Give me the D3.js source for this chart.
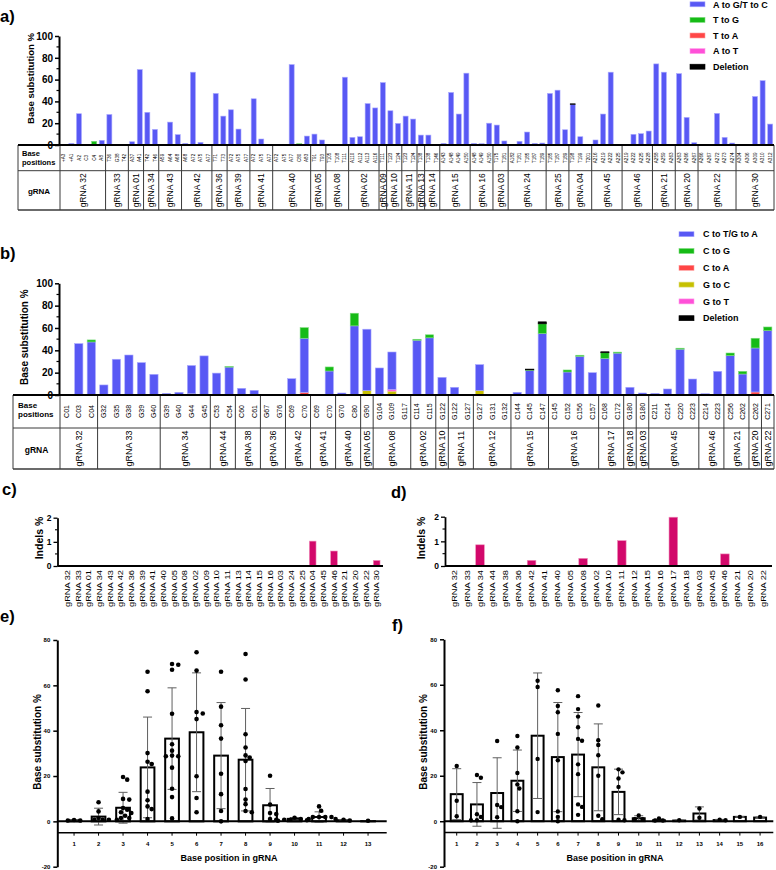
<!DOCTYPE html>
<html><head><meta charset="utf-8">
<script src="https://cdn.jsdelivr.net/npm/d3@7/dist/d3.min.js"></script>
<style>
html,body{margin:0;padding:0;background:#fff;}
svg{display:block;}
text{font-family:"Liberation Sans",Arial,Helvetica,sans-serif;fill:#000;}
</style></head><body>
<svg id="chart" width="776" height="870" viewBox="0 0 776 870"></svg>
<script>
// ================= DATA =================
// ---- panel a ----
const aGroups = ["gRNA 32","gRNA 33","gRNA 01","gRNA 34","gRNA 43","gRNA 42","gRNA 36","gRNA 39","gRNA 41","gRNA 40","gRNA 05","gRNA 08","gRNA 02","gRNA 09","gRNA 10","gRNA 11","gRNA 13","gRNA 14","gRNA 15","gRNA 16","gRNA 03","gRNA 24","gRNA 25","gRNA 04","gRNA 45","gRNA 46","gRNA 21","gRNA 20","gRNA 22","gRNA 30"];
const aGroupSizes = [6,3,2,2,3,4,2,3,3,5,2,3,4,1,2,2,1,2,4,3,2,5,3,3,4,4,3,3,5,5];
const aPositions = [
 "+A3","+A1","A2","C3","C4","A8",
 "T36","G38","T42",
 "A37","A41",
 "T42","T46",
 "A59","A64","A68",
 "A68","A72","A75","A77",
 "T71","T73",
 "A72","A75","A77",
 "A72","A75","A77",
 "A72","A75","A77","C80","A83",
 "T91","T93",
 "T105","T108","T111",
 "A110","A112","A113","A116",
 "T111",
 "T123","T124",
 "T123","T124",
 "T138",
 "T138","T146",
 "A143","A148","A149","A150",
 "A148","A149","A150",
 "T175","T181",
 "A182","T181","T185","T187","T189",
 "T185","T187","T189",
 "T198","T199","T201",
 "A216","A219","A222","A225",
 "A219","A222","A225","A228",
 "A258","A259","A263",
 "A263","A266","A267",
 "A266","A267","A272","A273","A274",
 "A304","A306","A309","A310","A312"];
const aAtoG = [
 0,1.5,28.7,0,0,4.3,
 28,0,0.6,
 3,69.2,
 30,14.3,
 0.6,21,9.5,
 1.5,66.8,2.4,0,
 47.3,26.5,
 32.3,14.6,0,
 42.4,5.5,0,
 0,0,73.8,0,8.2,
 10,4.6,
 0,0,62.2,
 7,7.6,38,34,
 57.3,
 31.4,19.8,
 26.5,23.8,
 9.1,
 9.1,0,
 1.5,48.2,28.4,65.9,
 1.5,1.2,20,
 18.3,3.7,
 0,3.4,11.9,1.5,1.8,
 47.3,50.3,14,
 37.2,7.6,0,
 4.6,28.4,66.8,0,
 0,9.8,10.4,12.8,
 74.4,66.8,0.5,
 65.5,25.3,2.1,
 0,0,29,7,1.8,
 0,0.6,44.5,59,19.2];
const aTtoG = [
 0,0,0,0,3.4,0, 0,0,0, 0,0, 0,0, 0,0,0, 0,0,0,0, 0,0, 0,0,0, 0,0,0,
 0,0,0,1.2,0, 0,0, 0,0,0, 0,0,0,0, 0, 0,0, 0,0, 0, 0,0, 0,0,0,0, 0,0,0,
 0,0, 0,0,0,0,0, 0,0,0, 0,0,0, 0,0,0,0, 0,0,0,0, 0,0,0, 0,0,0, 0,0,0,0,0, 0,0,0,0,0];
const aTtoA = [
 0,0,0,0,0,0, 0,0,0, 0,0, 0,0, 0,0,0, 0,0,0,0, 0,0, 0,0,0, 0,0,0,
 0,0,0,0,0, 0,0, 0,0,0, 0,0,0,0, 0, 0,0, 0,0, 0, 0,0, 0,0,0,0, 0,0,0,
 0,0, 0,0,0,0,0, 0,0,0, 0,0,0, 0,0,0,0, 0,0,0,0, 0,0,0, 0,0,0, 0,0,0,0,0, 0,0,0,0,0];
const aAtoT = [
 0,0,0,0,0,0, 0,0,0, 0,0, 0,0, 0,0,0, 0,0,0,0, 0,0, 0,0,0, 0,0,0,
 0,0,0,0,0, 0,0, 0,0,0, 0,0,0,0, 0, 0,0, 0,0, 0, 0,0, 0,0,0,0, 0,0,0,
 0,0, 0,0,0,0,0, 0,0,0, 0,0,0, 0,0,0,0, 0,0,0,0, 0,0,0, 0,0,0, 0,0,0,0,0, 0,0,0,0,0];
const aDeletion = [
 0,0,0,0,0,0, 0,0,0, 0,0, 0,0, 0,0,0, 0,0,0,0, 0,0, 0,0,0, 0,0,0,
 0,0,0,0,0, 0,0, 0,0,0, 0,0,0,0, 0, 0,0, 0,0, 0, 0,0, 0,0,0,0, 0,0,0,
 0,0, 0,0,0,0,0, 0,0,0, 0.6,0,0, 0,0,0,0, 0,0,0,0, 0,0,0, 0,0,0, 0,0,0,0,0, 0,0,0,0,0];
const aLegend = ["A to G/T to C","T to G","T to A","A to T","Deletion"];

// ---- panel b ----
const bGroups = ["gRNA 32","gRNA 33","gRNA 34","gRNA 44","gRNA 38","gRNA 36","gRNA 42","gRNA 41","gRNA 40","gRNA 05","gRNA 08","gRNA 02","gRNA 10","gRNA 11","gRNA 12","gRNA 15","gRNA 16","gRNA 17","gRNA 18","gRNA 03","gRNA 45","gRNA 46","gRNA 21","gRNA 20","gRNA 22"];
const bGroupSizes = [3,5,4,2,2,2,2,2,2,1,3,2,1,2,3,3,4,2,1,1,4,2,2,1,1];
const bPositions = [
 "C01","C03","C04",
 "G32","G35","G38","G39","G40",
 "G39","G40","G44","G45",
 "C53","C54",
 "C60","C61",
 "G67","G76",
 "C69","C70",
 "C69","C70",
 "G70","C80",
 "G90",
 "G104","G109","G117",
 "C114","C115",
 "G122",
 "G122","G127",
 "G127","G131","G132",
 "C144","C145","C147",
 "C145","C152","C156","C157",
 "C168","C172",
 "G180",
 "G180",
 "C211","C214","C220","C223",
 "C214","C223",
 "C256","C262",
 "C262",
 "C271"];
const bCtoT = [
 0,46,47.5,
 9,32,35.8,29,18.5,
 1.5,2.4,25.3,35,
 19.6,25,
 6,4.2,
 0,0.5,
 14.6,48.4,
 0,21.5,
 1.8,61.5,
 55,
 24.2,33.5,0,
 49,50.7,
 15.8,
 6.9,0,
 23.3,0,0,
 2.4,22,55,
 0,20.6,34.6,20,
 32.8,37,
 6.9,
 1.8,
 1.5,5.4,41,14.3,
 1.2,21.2,
 35.2,18.8,
 39.4,
 57.6];
const bCtoG = [
 0,0,1.8, 0,0,0,0,0, 0,0,0,0, 0,0.5, 0,0, 0,0, 0,9.5, 0,3.6, 0,11.3, 0,
 0,0,0, 0.9,2.7, 0, 0,0, 0,0,0, 0,0.5,8.7, 0,1.8,1,0, 5,0.9, 0, 0,
 0,0,0.9,0, 0,0, 2.4,2.4, 8.7, 3.3];
const bCtoA = [
 0,0,0, 0,0,0,0,0, 0,0,0.5,0, 0,0, 0,0, 0,0, 0,2.4, 0,0, 0,0.4, 0,
 0,0,0, 0,0.5, 0, 0,0, 0,0,0, 0,0,0, 0,0,0,0, 0,0.5, 0, 0,
 0,0,0,0, 0,0, 0,0, 2.7, 0];
const bGtoC = [
 0,0,0, 0,0,0,0,0, 0,0,0.6,0, 0,0, 0,0, 0,0, 0,0, 0,0, 0,0, 3.9,
 0,3.5,0, 0,0, 0, 0,0, 3.9,0,0, 0,0,0, 0,0,0,0, 0,0, 0, 0,
 0,0,0,0, 0,0, 0,0, 0, 0];
const bGtoT = [
 0,0,0, 0,0,0,0,0, 0,0,0,0, 0,0, 0,0, 0,0, 0,0, 0,0, 0,0, 0,
 0,1.5,0, 0,0, 0, 0,0, 0,0,0, 0,0,0, 0,0,0,0, 0,0, 0, 0,
 0,0,0,0, 0,0, 0,0, 0, 0];
const bDeletion = [
 0,0,0, 0,0,0,0,0, 0,0,0,0, 0,0, 0,0, 0,0, 0,0, 0,0, 0,0, 0,
 0,0,0, 0,0, 0, 0,0, 0,0,0, 0,0.7,1.8, 0,0,0,0, 0.9,0, 0, 0,
 0,0,0,0, 0,0, 0,0, 0, 0];
const bLegend = ["C to T/G to A","C to G","C to A","G to C","G to T","Deletion"];

// ---- panel c ----
const cGuides = ["gRNA 32","gRNA 33","gRNA 01","gRNA 34","gRNA 43","gRNA 42","gRNA 36","gRNA 39","gRNA 41","gRNA 40","gRNA 05","gRNA 08","gRNA 02","gRNA 09","gRNA 10","gRNA 11","gRNA 13","gRNA 14","gRNA 15","gRNA 16","gRNA 03","gRNA 24","gRNA 25","gRNA 04","gRNA 45","gRNA 46","gRNA 21","gRNA 20","gRNA 22","gRNA 30"];
const cIndels = [0,0,0,0,0,0,0,0,0,0,0,0,0,0,0,0,0,0,0,0,0,0,0,1.03,0,0.62,0,0,0,0.23];

// ---- panel d ----
const dGuides = ["gRNA 32","gRNA 33","gRNA 34","gRNA 44","gRNA 38","gRNA 36","gRNA 42","gRNA 41","gRNA 40","gRNA 05","gRNA 08","gRNA 02","gRNA 10","gRNA 11","gRNA 12","gRNA 15","gRNA 16","gRNA 17","gRNA 18","gRNA 03","gRNA 45","gRNA 46","gRNA 21","gRNA 20","gRNA 22"];
const dIndels = [0,0,0.86,0,0,0,0.23,0,0,0,0.31,0,0,1.03,0,0,0,1.98,0,0,0,0.49,0,0,0];

// ---- panel e ----
const eBasePos = ["1","2","3","4","5","6","7","8","9","10","11","12","13"];
const eMean = [0.5,2.1,6.0,23.8,36.5,39.3,29.0,27.2,7.1,1.1,1.9,0.5,0.1];
const eSD = [0.2,3.7,6.8,22.2,22.4,26.2,23.4,22.6,7.4,0.6,2.3,0.2,0.1];
const ePoints = [
 [0.4,0.6,0.4],
 [8.4,4.4,1.5,0.7,0.7,0.7],
 [19.6,18.4,9.9,9.6,5.9,5.1,4.0,3.7,2.5,1.5,1.5,0.7],
 [66,57.4,30.1,26.3,25.3,13.1,9.3,6.6,5.4,1.0],
 [69.4,69.1,66.9,47.5,34,31.2,29,28.7,28.7,23.7,14.4,10.7,1.3],
 [74.6,66.5,48.2,47.6,45.1,19.9,10.3,4],
 [66,50.6,42.4,36.5,21,12,4.6,0],
 [73.8,62.6,38.4,32.6,29.1,28.2,26.6,14.3,9.6,7.6,4.6,4],
 [20.1,7.4,3.7,3.2,1,0.7],
 [1.6,1.0,0.7,0.7,0.5,0.3],
 [6.6,4.7,1.9,1.9,1.9,1.9,1.0,1.0],
 [0.7,0.4],
 [0.3]];

// ---- panel f ----
const fBasePos = ["1","2","3","4","5","6","7","8","9","10","11","12","13","14","15","16"];
const fMean = [11.9,7.4,12.4,17.8,37.6,28.2,29.3,23.7,12.9,1.3,0.4,0.3,3.4,0.5,1.9,1.6];
const fSD = [11.2,9.6,15.5,13.5,27.6,24.0,18.5,19.1,10.0,1.1,0.5,0.2,2.9,0.3,0.2,0.2];
const fPoints = [
 [24.3,9,2.2],
 [20.3,19.1,3.1,1.9,0.4,0.4],
 [35.3,7.1,6.2,1.8],
 [37.5,32.4,21.2,16.2,14.4,4.4,0],
 [61.8,59,27.4,4],
 [57.6,50.7,47.9,38.4,26.8,4.3,1.9,0],
 [55,49.3,46,41.3,36.2,35.4,25,20.7,7.4,6.3,2.8],
 [50.9,35.6,33.5,29,20,2.4,0.9],
 [22.8,21.5,18.8,15.1,0.7,0.4],
 [2.5,0.9,0.9],
 [1.2,0.3,0.3],
 [0.4],
 [5.6,1.5],
 [0.7,0.4],
 [1.9],
 [1.9]];

// ================= STYLE =================
const C = {
  blue:"#5858f4", blueS:"#aaaaff",
  green:"#16bb16", greenS:"#7fdc7f",
  red:"#ff4646", redS:"#ff9d9d",
  pink:"#ff50d8", pinkS:"#ffa0ea",
  olive:"#c6c000", oliveS:"#e2de82",
  black:"#000000", blackS:"#000000",
  indel:"#d2086b", indelS:"#ee8fbb"
};
const svg = d3.select("#chart");

function panelLabel(t,x,y){
  svg.append("text").attr("x",x).attr("y",y).attr("font-size",16.5).attr("font-weight","bold").text(t);
}

// ================= STACKED PANELS (a, b) =================
function stackedPanel(o){
  const n = o.positions.length;
  const x = d3.scaleBand().domain(d3.range(n)).range([o.x0,o.x1]).paddingInner(0.34).paddingOuter(0.17);
  const y = d3.scaleLinear().domain([0,100]).range([o.yBase,o.yTop]);
  const g = svg.append("g");
  const rows = d3.range(n).map(i=>{const r={i}; o.series.forEach(s=>{r[s.key]=s.values[i];}); return r;});
  const layers = d3.stack().keys(o.stackOrder)(rows);
  layers.forEach(layer=>{
    const s = o.series.find(q=>q.key===layer.key);
    g.append("g").selectAll("rect").data(layer.filter(d=>d[1]>d[0])).join("rect")
      .attr("x",d=>x(d.data.i)).attr("width",x.bandwidth())
      .attr("y",d=>y(d[1])).attr("height",d=>Math.max(0.6,y(d[0])-y(d[1])))
      .attr("fill",s.color).attr("stroke",s.stroke).attr("stroke-width",0.6);
  });
  // y axis
  const ax = g.append("g").attr("transform",`translate(${o.axisX},0)`)
    .call(d3.axisLeft(y).tickValues([0,20,40,60,80,100]).tickSize(4).tickSizeOuter(0).tickPadding(2));
  ax.select(".domain").attr("stroke","#000").attr("stroke-width",2);
  ax.selectAll(".tick line").attr("stroke","#000").attr("stroke-width",1.5);
  ax.selectAll(".tick text").attr("font-size",10).attr("font-weight","bold");
  g.append("g").selectAll("line").data([10,30,50,70,90]).join("line")
    .attr("x1",o.axisX-2.5).attr("x2",o.axisX).attr("y1",d=>y(d)).attr("y2",d=>y(d))
    .attr("stroke","#000").attr("stroke-width",1.2);
  g.append("text").attr("transform",`translate(${o.titleX},${(o.yBase+o.yTop)/2 + o.titleDy}) rotate(-90)`)
    .attr("text-anchor","middle").attr("font-size",o.titleSize).attr("font-weight","bold").text("Base substitution %");

  // table
  const t = o.table, step = x.step();
  const starts = []; let cum = 0;
  o.groupSizes.forEach(s=>{starts.push(cum); cum += s;});
  const lines = g.append("g").attr("stroke","#3a3a3a").attr("stroke-width",1).attr("fill","none");
  lines.append("line").attr("x1",t.left).attr("x2",o.x1).attr("y1",t.mid).attr("y2",t.mid);
  lines.append("line").attr("x1",t.left).attr("x2",o.x1).attr("y1",t.bottom).attr("y2",t.bottom).attr("stroke-width",1.5);
  lines.append("line").attr("x1",t.left).attr("x2",t.left).attr("y1",o.yBase).attr("y2",t.bottom);
  lines.append("line").attr("x1",t.divider).attr("x2",t.divider).attr("y1",o.yBase).attr("y2",t.bottom);
  lines.selectAll(".gb").data(o.groupSizes.map((s,i)=>starts[i]+s)).join("line")
    .attr("x1",d=>o.x0+d*step).attr("x2",d=>o.x0+d*step).attr("y1",o.yBase).attr("y2",t.bottom);
  g.append("line").attr("x1",t.left).attr("x2",o.x1).attr("y1",o.yBase).attr("y2",o.yBase)
    .attr("stroke","#000").attr("stroke-width",2);
  // base position labels
  g.append("g").selectAll("text").data(o.positions).join("text")
    .attr("transform",(d,i)=>`translate(${x(i)+x.bandwidth()/2},${(o.yBase+t.mid)/2}) rotate(-90)`)
    .attr("text-anchor","middle").attr("dy","0.35em").attr("font-size",t.posSize).text(d=>d);
  // gRNA labels
  g.append("g").selectAll("text").data(o.groups).join("text")
    .attr("transform",(d,i)=>`translate(${o.x0+(starts[i]+o.groupSizes[i]/2)*step},${(t.mid+t.bottom)/2}) rotate(-90)`)
    .attr("text-anchor","middle").attr("dy","0.35em").attr("font-size",t.grnaSize).text(d=>d);
  // row headers
  g.append("text").attr("x",t.hdrX).attr("y",t.hdrY1).attr("font-size",t.hdrSize).attr("font-weight","bold").text("Base");
  g.append("text").attr("x",t.hdrX).attr("y",t.hdrY2).attr("font-size",t.hdrSize).attr("font-weight","bold").text("positions");
  g.append("text").attr("x",(t.left+t.divider)/2).attr("y",t.grnaHdrY).attr("text-anchor","middle")
    .attr("font-size",t.hdrSize+0.5).attr("font-weight","bold").text("gRNA");
  // legend
  const L = o.legend;
  const lg = g.append("g");
  L.items.forEach((name,i)=>{
    const s = o.series.find(q=>q.key===L.keys[i]);
    const cy = L.y0 + i*L.dy;
    lg.append("rect").attr("x",L.x).attr("y",cy-2.5).attr("width",15).attr("height",5)
      .attr("fill",s.color).attr("stroke",s.stroke).attr("stroke-width",0.6);
    lg.append("text").attr("x",L.tx).attr("y",cy+3.2).attr("font-size",9).attr("font-weight","bold").text(name);
  });
}

stackedPanel({
  positions:aPositions, groups:aGroups, groupSizes:aGroupSizes,
  series:[
    {key:"AtoG",values:aAtoG,color:C.blue,stroke:C.blueS},
    {key:"TtoG",values:aTtoG,color:C.green,stroke:C.greenS},
    {key:"TtoA",values:aTtoA,color:C.red,stroke:C.redS},
    {key:"AtoT",values:aAtoT,color:C.pink,stroke:C.pinkS},
    {key:"Del",values:aDeletion,color:C.black,stroke:C.blackS}],
  stackOrder:["TtoA","AtoT","AtoG","TtoG","Del"],
  x0:60, x1:774, yBase:145, yTop:36, axisX:59,
  titleX:33.5, titleDy:-12, titleSize:9.5,
  table:{left:18, divider:60, mid:170.7, bottom:210, posSize:4.6, grnaSize:8.5,
         hdrX:22, hdrY1:156, hdrY2:165, hdrSize:7.5, grnaHdrY:194},
  legend:{items:aLegend, keys:["AtoG","TtoG","TtoA","AtoT","Del"], x:690, tx:713, y0:4.3, dy:15.6}
});

stackedPanel({
  positions:bPositions, groups:bGroups, groupSizes:bGroupSizes,
  series:[
    {key:"CtoT",values:bCtoT,color:C.blue,stroke:C.blueS},
    {key:"CtoG",values:bCtoG,color:C.green,stroke:C.greenS},
    {key:"CtoA",values:bCtoA,color:C.red,stroke:C.redS},
    {key:"GtoC",values:bGtoC,color:C.olive,stroke:C.oliveS},
    {key:"GtoT",values:bGtoT,color:C.pink,stroke:C.pinkS},
    {key:"Del",values:bDeletion,color:C.black,stroke:C.blackS}],
  stackOrder:["CtoA","GtoC","GtoT","CtoT","CtoG","Del"],
  x0:60, x1:774, yBase:395, yTop:283.3, axisX:59,
  titleX:28, titleDy:-2, titleSize:10,
  table:{left:13, divider:60, mid:428, bottom:469, posSize:7, grnaSize:9,
         hdrX:18, hdrY1:408, hdrY2:417, hdrSize:8, grnaHdrY:453},
  legend:{items:bLegend, keys:["CtoT","CtoG","CtoA","GtoC","GtoT","Del"], x:679, tx:703, y0:234.2, dy:16.8}
});

// ================= INDEL PANELS (c, d) =================
function indelPanel(o){
  const x = d3.scaleBand().domain(o.cats).range([o.x0,o.x1]).paddingInner(o.pad).paddingOuter(o.pad/2);
  const y = d3.scaleLinear().domain([0,2]).range([o.yZero,o.yTwo]);
  const g = svg.append("g");
  g.append("g").selectAll("rect").data(o.cats.map((c,i)=>({c,v:o.vals[i]})).filter(d=>d.v>0)).join("rect")
    .attr("x",d=>x(d.c)).attr("width",x.bandwidth()).attr("y",d=>y(d.v)).attr("height",d=>y(0)-y(d.v))
    .attr("fill",C.indel).attr("stroke",C.indelS).attr("stroke-width",0.6);
  const ax = g.append("g").attr("transform",`translate(${o.axisX},0)`)
    .call(d3.axisLeft(y).tickValues([0,1,2]).tickFormat(d3.format("d")).tickSize(4).tickSizeOuter(0).tickPadding(2));
  ax.select(".domain").attr("stroke","#000").attr("stroke-width",1.8);
  ax.selectAll(".tick line").attr("stroke","#000").attr("stroke-width",1.3);
  ax.selectAll(".tick text").attr("font-size",8.5).attr("font-weight","bold");
  g.append("g").selectAll("line").data([0.5,1.5]).join("line")
    .attr("x1",o.axisX-2.5).attr("x2",o.axisX).attr("y1",d=>y(d)).attr("y2",d=>y(d))
    .attr("stroke","#000").attr("stroke-width",1.1);
  g.append("line").attr("x1",o.axisX).attr("x2",o.xEnd).attr("y1",y(0)).attr("y2",y(0))
    .attr("stroke","#000").attr("stroke-width",1.8);
  g.append("g").selectAll("text").data(o.cats).join("text")
    .attr("transform",d=>`translate(${x(d)+x.bandwidth()/2},${y(0)+4}) rotate(-90)`)
    .attr("text-anchor","end").attr("dy","0.35em").attr("font-size",7.2)
    .attr("textLength",37).attr("lengthAdjust","spacingAndGlyphs").text(d=>d);
  g.append("text").attr("transform",`translate(${o.titleX},538) rotate(-90)`).attr("text-anchor","middle")
    .attr("font-size",10.5).attr("font-weight","bold").text("Indels %");
}
indelPanel({cats:cGuides, vals:cIndels, x0:62, x1:382, pad:0.37, yZero:566, yTwo:517.7, axisX:57.5, xEnd:383, titleX:43});
indelPanel({cats:dGuides, vals:dIndels, x0:447.8, x1:770, pad:0.33, yZero:566, yTwo:516.7, axisX:445, xEnd:772, titleX:425});

// ================= BAR + SCATTER PANELS (e, f) =================
function dodge(vals, y, cx, r){
  const placed = [];
  vals.map(v=>v).sort((a,b)=>b-a).forEach(v=>{
    const py = y(v); let px = cx;
    for(let t=0;t<60;t++){
      const off = t===0 ? 0 : (t%2 ? 1 : -1)*Math.ceil(t/2)*r*0.9;
      if(placed.every(q=>Math.hypot(q.x-(cx+off), q.y-py) >= 2*r-0.2)){ px = cx+off; break; }
    }
    placed.push({x:px,y:py});
  });
  return placed;
}
function scatterPanel(o){
  const x = d3.scaleBand().domain(o.cats).range([o.x0,o.x1]).paddingInner(o.pad).paddingOuter(o.pad/2);
  const y = d3.scaleLinear().domain([-20,80]).range([o.yBottom,o.yTop]);
  const g = svg.append("g");
  const cx = d => x(d)+x.bandwidth()/2;
  // bars
  g.append("g").selectAll("rect").data(o.cats.map((c,i)=>({c,m:o.mean[i]}))).join("rect")
    .attr("x",d=>x(d.c)).attr("width",x.bandwidth()).attr("y",d=>y(d.m)).attr("height",d=>y(0)-y(d.m))
    .attr("fill","#fff").attr("stroke","#000").attr("stroke-width",2);
  // error bars
  const eb = g.append("g").attr("stroke","#606060").attr("stroke-width",1);
  o.cats.forEach((c,i)=>{
    const lo = y(o.mean[i]-o.sd[i]), hi = y(o.mean[i]+o.sd[i]), xc = cx(c);
    eb.append("line").attr("x1",xc).attr("x2",xc).attr("y1",lo).attr("y2",hi);
    eb.append("line").attr("x1",xc-4.5).attr("x2",xc+4.5).attr("y1",hi).attr("y2",hi);
    eb.append("line").attr("x1",xc-4.5).attr("x2",xc+4.5).attr("y1",lo).attr("y2",lo);
  });
  // zero line and offset x axis
  g.append("line").attr("x1",o.axisX).attr("x2",o.xEnd).attr("y1",y(0)).attr("y2",y(0)).attr("stroke","#000").attr("stroke-width",2);
  g.append("line").attr("x1",o.axisX).attr("x2",o.xEnd).attr("y1",y(-5)).attr("y2",y(-5)).attr("stroke","#000").attr("stroke-width",1.5);
  g.append("g").selectAll("line").data(o.cats).join("line")
    .attr("x1",cx).attr("x2",cx).attr("y1",y(-5)).attr("y2",y(-5)+3).attr("stroke","#000").attr("stroke-width",1);
  g.append("g").selectAll("text").data(o.cats).join("text")
    .attr("x",cx).attr("y",y(-5)+13).attr("text-anchor","middle").attr("font-size",6).attr("font-weight","bold").text(d=>d);
  // points
  const pts = [];
  o.cats.forEach((c,i)=>{ dodge(o.points[i], y, cx(c), o.r).forEach(p=>pts.push(p)); });
  g.append("g").selectAll("circle").data(pts).join("circle")
    .attr("cx",d=>d.x).attr("cy",d=>d.y).attr("r",o.r).attr("fill","#000");
  // y axis
  const ax = g.append("g").attr("transform",`translate(${o.axisX},0)`)
    .call(d3.axisLeft(y).tickValues([-20,0,20,40,60,80]).tickFormat(d=>String(d)).tickSize(4).tickSizeOuter(0).tickPadding(3));
  ax.select(".domain").attr("stroke","#000").attr("stroke-width",2);
  ax.selectAll(".tick line").attr("stroke","#000").attr("stroke-width",1.5);
  ax.selectAll(".tick text").attr("font-size",6).attr("font-weight","bold");
  g.append("text").attr("transform",`translate(${o.titleX},742) rotate(-90)`).attr("text-anchor","middle")
    .attr("font-size",10).attr("font-weight","bold").text("Base substitution %");
  g.append("text").attr("x",o.xTitleX).attr("y",861).attr("text-anchor","middle")
    .attr("font-size",9).attr("font-weight","bold").text("Base position in gRNA");
}
scatterPanel({cats:eBasePos, mean:eMean, sd:eSD, points:ePoints, x0:61.8, x1:380.3, pad:0.44,
  yBottom:866.7, yTop:640, axisX:57.3, xEnd:386.7, r:2.3, titleX:40.5, xTitleX:229});
scatterPanel({cats:fBasePos, mean:fMean, sd:fSD, points:fPoints, x0:446.6, x1:770.2, pad:0.41,
  yBottom:866.7, yTop:639.3, axisX:444, xEnd:773.3, r:2.2, titleX:426.5, xTitleX:615});

// panel letters
panelLabel("a)",0,22);
panelLabel("b)",0,259);
panelLabel("c)",2,495);
panelLabel("d)",391,498);
panelLabel("e)",0,622);
panelLabel("f)",392,631);
</script>
</body></html>
